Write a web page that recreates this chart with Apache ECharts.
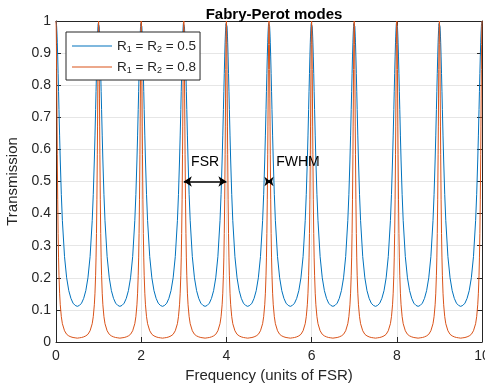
<!DOCTYPE html>
<html>
<head>
<meta charset="utf-8">
<script src="https://cdn.jsdelivr.net/npm/echarts@6/dist/echarts.min.js"></script>
<style>html,body{margin:0;padding:0;background:#fff}#c{width:485px;height:387px}</style>
</head>
<body>
<div id="c"></div>
<script>
// Peak positions (units of FSR)
const peakPositions = [0, 1, 2, 3, 4, 5, 6, 7, 8, 9, 10];
// Half-profile of one mode: offset from peak and transmission
const profileOffset = [0, 0.005, 0.01, 0.015, 0.02, 0.025, 0.03, 0.04, 0.05, 0.06, 0.07, 0.085, 0.1, 0.125, 0.15, 0.2, 0.25, 0.3, 0.35, 0.4, 0.45, 0.5];
const transR05 = [1, 0.998, 0.992, 0.983, 0.969, 0.953, 0.934, 0.888, 0.836, 0.781, 0.724, 0.642, 0.567, 0.460, 0.378, 0.266, 0.200, 0.160, 0.136, 0.121, 0.114, 0.111];
const transR08 = [1, 0.981, 0.927, 0.849, 0.760, 0.670, 0.585, 0.443, 0.338, 0.262, 0.208, 0.152, 0.116, 0.079, 0.057, 0.035, 0.024, 0.019, 0.016, 0.014, 0.013, 0.012];
const seriesNames = ['R1 = R2 = 0.5', 'R1 = R2 = 0.8'];
const xTicks = { min: 0, max: 10, interval: 2 };
const yTicks = { min: 0, max: 1, interval: 0.1 };
const annotFSR = { from: [3, 0.5], to: [4, 0.5], label: 'FSR', labelAt: [3.5, 0.56] };
const annotFWHM = { from: [4.965, 0.5], to: [5.035, 0.5], label: 'FWHM', labelAt: [5.68, 0.56] };

function buildSeries(vals) {
  const pts = [];
  peakPositions.forEach(p => {
    for (let i = vals.length - 1; i >= 1; i--) {
      const x = p - profileOffset[i];
      if (x >= 0 && (i < vals.length - 1 || p === peakPositions[0])) pts.push([x, vals[i]]);
    }
    pts.push([p, vals[0]]);
    for (let i = 1; i < vals.length; i++) {
      const x = p + profileOffset[i];
      if (x <= 10) pts.push([x, vals[i]]);
    }
  });
  return pts;
}

const txt = '#262626';
const font = 'Liberation Sans, Arial, Helvetica, sans-serif';
const chart = echarts.init(document.getElementById('c'), null, { renderer: 'canvas' });
function axisLine() { return { show: true, onZero: false, lineStyle: { color: txt, width: 1 } }; }
function axisTick() { return { show: true, inside: true, length: 5, lineStyle: { color: txt, width: 1 } }; }
chart.setOption({
  animation: false,
  textStyle: { fontFamily: font },
  title: {
    text: 'Fabry-Perot modes', left: 269, textAlign: 'center', top: 2,
    textStyle: { fontSize: 15, fontWeight: 'bold', color: '#000', fontFamily: font }
  },
  grid: { left: 56, right: 3, top: 21, bottom: 45, containLabel: false, outerBoundsMode: 'none' },
  legend: {
    orient: 'vertical', left: 66, top: 32,
    padding: [6, 4, 5, 6], itemGap: 5,
    borderColor: txt, borderWidth: 1, backgroundColor: '#fff',
    icon: 'rect', itemWidth: 40, itemHeight: 1.2,
    formatter: function (name) {
      const v = name.split('= ')[2];
      return '{a|R}{s|1}{a| = R}{s|2}{a| = ' + v + '}';
    },
    textStyle: {
      color: txt, fontFamily: font,
      rich: {
        a: { fontSize: 13.5, color: txt, lineHeight: 16, fontFamily: font },
        s: { fontSize: 9, color: txt, lineHeight: 16, padding: [7, 0, 0, 0], fontFamily: font }
      }
    },
    data: seriesNames
  },
  xAxis: [
    {
      type: 'value', min: xTicks.min, max: xTicks.max, interval: xTicks.interval,
      name: 'Frequency (units of FSR)', nameLocation: 'middle', nameGap: 21,
      nameTextStyle: { fontSize: 15, color: txt, fontFamily: font },
      axisLabel: { fontSize: 14, color: txt, margin: 7, fontFamily: font },
      splitLine: { show: true, lineStyle: { color: '#e6e6e6', width: 1 } },
      axisLine: axisLine(), axisTick: axisTick()
    },
    {
      type: 'value', position: 'top', min: xTicks.min, max: xTicks.max, interval: xTicks.interval,
      axisLabel: { show: false }, splitLine: { show: false },
      axisLine: axisLine(), axisTick: axisTick()
    }
  ],
  yAxis: [
    {
      type: 'value', min: yTicks.min, max: yTicks.max, interval: yTicks.interval,
      name: 'Transmission', nameLocation: 'middle', nameGap: 30,
      nameTextStyle: { fontSize: 15, color: txt, fontFamily: font },
      axisLabel: { fontSize: 14, color: txt, margin: 5, fontFamily: font },
      splitLine: { show: true, lineStyle: { color: '#e6e6e6', width: 1 } },
      axisLine: axisLine(), axisTick: axisTick()
    },
    {
      type: 'value', position: 'right', min: yTicks.min, max: yTicks.max, interval: yTicks.interval,
      axisLabel: { show: false }, splitLine: { show: false },
      axisLine: axisLine(), axisTick: axisTick()
    }
  ],
  series: [
    {
      name: seriesNames[0], type: 'line', data: buildSeries(transR05), symbol: 'none',
      lineStyle: { color: '#0072BD', width: 1 }, itemStyle: { color: '#0072BD' }, z: 2
    },
    {
      name: seriesNames[1], type: 'line', data: buildSeries(transR08), symbol: 'none',
      lineStyle: { color: '#D95319', width: 1 }, itemStyle: { color: '#D95319' }, z: 3,
      markLine: {
        silent: true, symbol: ['arrow', 'arrow'], symbolSize: [8, 8],
        lineStyle: { color: '#000', width: 1.5, type: 'solid' },
        label: { show: false },
        data: [
          [{ coord: annotFSR.from }, { coord: annotFSR.to }],
          [{ coord: annotFWHM.from, symbolSize: [7, 6] }, { coord: annotFWHM.to, symbolSize: [7, 6] }]
        ],
        z: 10
      },
      markPoint: {
        silent: true, symbol: 'circle', symbolSize: 0,
        label: { show: true, position: 'inside', color: '#000', fontSize: 14, fontFamily: font },
        data: [
          { coord: annotFSR.labelAt, value: annotFSR.label, label: { formatter: annotFSR.label } },
          { coord: annotFWHM.labelAt, value: annotFWHM.label, label: { formatter: annotFWHM.label } }
        ]
      }
    }
  ]
});
</script>
</body>
</html>
